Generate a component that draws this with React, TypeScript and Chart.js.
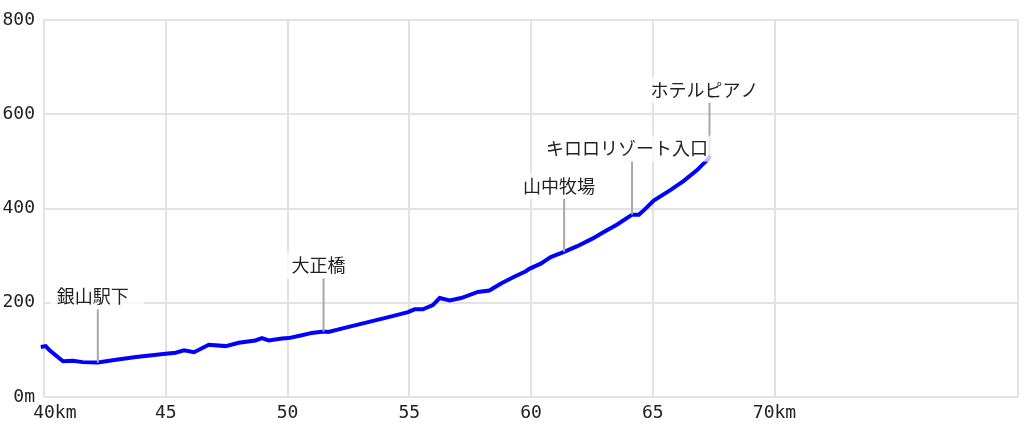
import { useEffect, useRef } from "react";
import { Chart, registerables } from "chart.js";

Chart.register(...registerables);

// Elevation profile (km along route, metres)
const distanceKm = [
  39.87, 40.07, 40.23, 40.78, 41.19, 41.59, 42.21, 42.96, 43.78, 45.0,
  45.41, 45.75, 46.16, 46.77, 47.46, 48.0, 48.68, 48.95, 49.23, 49.77,
  50.05, 50.59, 51.0, 51.48, 51.68, 52.22, 53.31, 54.27, 54.95, 55.22,
  55.56, 55.97, 56.25, 56.66, 57.13, 57.82, 58.29, 58.77, 59.31, 59.79,
  59.93, 60.4, 60.81, 61.36, 61.9, 62.52, 62.99, 63.54, 64.15, 64.43,
  64.63, 65.04, 65.72, 66.26, 66.81, 67.29, 67.35,
];
const elevationM = [
  106, 108, 99, 76, 77, 74, 73, 79, 85, 92,
  94, 99, 95, 111, 108, 115, 120, 125, 120, 124,
  125, 131, 136, 139, 138, 145, 159, 171, 180, 186,
  186, 195, 210, 205, 210, 223, 226, 241, 255, 267,
  272, 283, 297, 308, 320, 336, 350, 366, 387, 387,
  396, 417, 439, 458, 481, 506, 512,
];

// Stops
const stationNames = ["銀山駅下", "大正橋", "山中牧場", "キロロリゾート入口", "ホテルピアノ"];
const stationKm = [42.21, 51.48, 61.36, 64.15, 67.33];
const stationElev = [73, 139, 308, 387, 512];

// Axis ticks
const xTickValues = [40, 45, 50, 55, 60, 65, 70, 80];
const xTickLabels = ["  40km", "45", "50", "55", "60", "65", "70km", ""];
const yTickValues = [0, 200, 400, 600, 800];
const yTickLabels = ["0m", "200", "400", "600", "800"];

const tickFont = { family: '"DejaVu Sans Mono", monospace', size: 18 };
const labelFont = '18px "Noto Sans CJK JP", sans-serif';

const stationPlugin = {
  id: "stations",
  afterDatasetsDraw(chart: any) {
    const { ctx, scales } = chart;
    const x = scales.x;
    const y = scales.y;
    ctx.save();
    ctx.font = labelFont;
    const items = stationNames.map((name, i) => {
      const px = x.getPixelForValue(stationKm[i]);
      const py = y.getPixelForValue(stationElev[i]);
      const cy = py - 66;
      const w = ctx.measureText(name).width;
      return { name, px, py, cy, w };
    });
    // leader lines
    ctx.strokeStyle = "#a8a8a8";
    ctx.lineWidth = 2;
    items.forEach((it) => {
      ctx.beginPath();
      ctx.moveTo(it.px, it.cy + 12.5);
      ctx.lineTo(it.px, it.py);
      ctx.stroke();
    });
    // label backgrounds
    ctx.fillStyle = "rgba(255,255,255,0.75)";
    items.forEach((it) => {
      ctx.fillRect(it.px - it.w / 2 - 12, it.cy - 13, it.w + 22, 26);
    });
    // texts
    ctx.fillStyle = "#222";
    ctx.textAlign = "center";
    ctx.textBaseline = "middle";
    items.forEach((it) => {
      ctx.fillText(it.name, it.px - 5, it.cy);
    });
    ctx.restore();
  },
};

export default function App() {
  const canvasRef = useRef<HTMLCanvasElement | null>(null);

  useEffect(() => {
    const canvas = canvasRef.current;
    if (!canvas) return;
    const data = distanceKm.map((k, i) => ({ x: k, y: elevationM[i] }));
    const chart = new Chart(canvas, {
      type: "line",
      data: {
        datasets: [
          {
            data,
            borderColor: "#0000ff",
            borderWidth: 4,
            pointRadius: 0,
            tension: 0,
            fill: false,
            clip: false as any,
          },
        ],
      },
      options: {
        animation: false,
        responsive: false,
        devicePixelRatio: 1,
        layout: { padding: { top: 20, right: 3, bottom: 0, left: 0 } },
        plugins: { legend: { display: false }, tooltip: { enabled: false } },
        scales: {
          x: {
            type: "linear",
            min: 40,
            max: 80,
            afterBuildTicks: (s: any) => {
              s.ticks = xTickValues.map((v) => ({ value: v }));
            },
            afterFit: (s: any) => {
              s.height = 33;
            },
            ticks: {
              autoSkip: false,
              maxRotation: 0,
              padding: 6,
              color: "#222",
              font: tickFont,
              callback: (v: any) => {
                const i = xTickValues.indexOf(Number(v));
                return i >= 0 ? xTickLabels[i] : "";
              },
            },
            grid: { color: "#e2e2e2", lineWidth: 2, drawTicks: false },
            border: { display: false },
          },
          y: {
            type: "linear",
            min: 0,
            max: 800,
            afterBuildTicks: (s: any) => {
              s.ticks = yTickValues.map((v) => ({ value: v }));
            },
            afterFit: (s: any) => {
              s.width = 44;
            },
            ticks: {
              padding: 9,
              color: "#222",
              font: tickFont,
              callback: (v: any) => {
                const i = yTickValues.indexOf(Number(v));
                return i >= 0 ? yTickLabels[i] : "";
              },
            },
            grid: { color: "#e2e2e2", lineWidth: 2, drawTicks: false },
            border: { display: false },
          },
        },
      },
      plugins: [stationPlugin],
    });
    return () => chart.destroy();
  }, []);

  return (
    <div style={{ position: "fixed", left: 0, top: 0, width: 1024, height: 430, background: "#fff" }}>
      <canvas ref={canvasRef} width={1024} height={430} style={{ display: "block" }} />
    </div>
  );
}
